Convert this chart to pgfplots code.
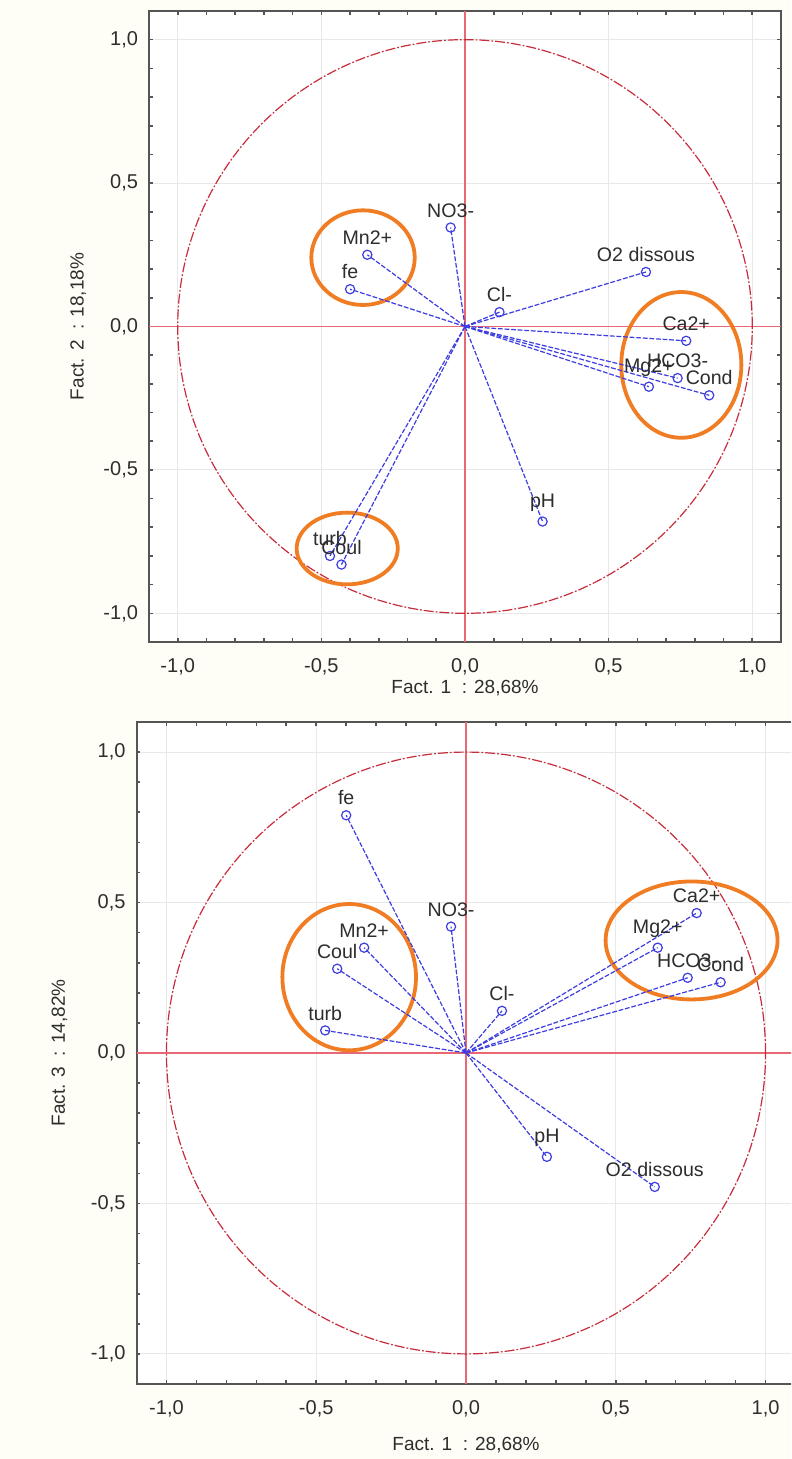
\documentclass[border=0pt]{standalone}
\usepackage{pgfplots}
\pgfplotsset{compat=1.18}
\usepackage{pgfplotstable}
\usepackage{fontspec}
\setmainfont{Liberation Sans}
\definecolor{bgc}{RGB}{254,254,246}
\definecolor{vecblue}{RGB}{60,60,225}
\definecolor{refred}{RGB}{232,105,115}
\definecolor{circred}{RGB}{200,45,60}
\definecolor{ringor}{RGB}{240,125,35}
\definecolor{txt}{RGB}{45,45,45}
\definecolor{axgray}{RGB}{85,85,85}

\pgfplotstableread[col sep=comma]{
lab,f1,f2,f3
NO3-,-0.05,0.345,0.42
Mn2+,-0.34,0.25,0.35
fe,-0.40,0.13,0.79
Cl-,0.12,0.05,0.14
O2 dissous,0.63,0.19,-0.445
Ca2+,0.77,-0.05,0.465
HCO3-,0.74,-0.18,0.25
Mg2+,0.64,-0.21,0.35
Cond,0.85,-0.24,0.235
pH,0.27,-0.68,-0.345
turb,-0.47,-0.80,0.075
Coul,-0.43,-0.83,0.28
}\loadings

\tikzset{
  refline/.style={refred, line width=0.55pt},
  refcirc/.style={circred, line width=0.6pt, dash pattern=on 5pt off 1pt on 0.9pt off 1pt},
  ring/.style={ringor, line width=1.9pt},
}

\pgfplotsset{
  pcastyle/.style={
    scale only axis,
    anchor=south west,
    xmin=-1.1,xmax=1.1,ymin=-1.1,ymax=1.1,
    xtick={-1,-0.5,0,0.5,1},
    ytick={-1,-0.5,0,0.5,1},
    xticklabels={{-1,0},{-0,5},{0,0},{0,5},{1,0}},
    yticklabels={{-1,0},{-0,5},{0,0},{0,5},{1,0}},
    minor tick num=4,
    tick align=inside,
    major tick length=1.8pt,
    minor tick length=1.8pt,
    tick style={axgray, line width=0.8pt},
    axis line style={axgray, line width=1pt},
    grid=major,
    major grid style={black!9, line width=0.45pt},
    ticklabel style={font=\fontsize{10}{12}\selectfont, text=txt},
    xticklabel style={yshift=-4.5pt},
    yticklabel style={xshift=-2pt},
    label style={font=\fontsize{9.5}{11}\selectfont, text=txt},
    axis background/.style={fill=white},
  },
  vecstyle/.style={vecblue, line width=0.6pt, dash pattern=on 2.4pt off 0.9pt},
  ptstyle/.style={only marks, mark=o, mark size=2.3pt, vecblue,
    mark options={line width=0.6pt, solid},
    nodes near coords, point meta=explicit symbolic,
    every node near coord/.append style={font=\fontsize{9.8}{11}\selectfont, text=txt, anchor=south, inner sep=0.5pt, yshift=4.3pt}},
}

\begin{document}
\begin{tikzpicture}
\useasboundingbox (0,0) rectangle (395.5pt,729.5pt);
\fill[bgc] (0,0) rectangle (395.5pt,729.5pt);
\clip (0,0) rectangle (395.5pt,729.5pt);

% ---------- top panel: Fact 1 x Fact 2 ----------
\begin{axis}[pcastyle,
  at={(74.5pt,408.5pt)}, width=316pt, height=315.5pt,
  xlabel={Fact. 1 \ : 28,68\%},
  ylabel={Fact. 2 \ : 18,18\%},
  xlabel style={at={(axis description cs:0.5,-0.073)}, anchor=center},
  ylabel style={at={(axis description cs:-0.112,0.5)}, anchor=center},
]
\draw[refline] (axis cs:-1.1,0) -- (axis cs:1.1,0);
\draw[refline] (axis cs:0,-1.1) -- (axis cs:0,1.1);
\draw[refcirc] (axis cs:0,0) circle[radius=1];
\draw[ring] (axis cs:-0.355,0.24) ellipse[x radius=0.18, y radius=0.165];
\draw[ring] (axis cs:0.753,-0.134) ellipse[x radius=0.209, y radius=0.254];
\draw[ring] (axis cs:-0.41,-0.774) ellipse[x radius=0.176, y radius=0.125];
\addplot[vecstyle, quiver={u=\thisrow{f1}, v=\thisrow{f2}}] table[x expr=0, y expr=0] {\loadings};
\addplot[ptstyle] table[x=f1, y=f2, meta=lab] {\loadings};
\end{axis}

% ---------- bottom panel: Fact 1 x Fact 3 ----------
\begin{axis}[pcastyle,
  at={(68.25pt,37.5pt)}, width=329.5pt, height=331pt,
  xlabel={Fact. 1 \ : 28,68\%},
  ylabel={Fact. 3 \ : 14,82\%},
  xlabel style={at={(axis description cs:0.5,-0.092)}, anchor=center},
  ylabel style={at={(axis description cs:-0.117,0.5)}, anchor=center},
]
\draw[refline] (axis cs:-1.1,0) -- (axis cs:1.1,0);
\draw[refline] (axis cs:0,-1.1) -- (axis cs:0,1.1);
\draw[refcirc] (axis cs:0,0) circle[radius=1];
\draw[ring] (axis cs:-0.39,0.252) ellipse[x radius=0.223, y radius=0.243];
\draw[ring] (axis cs:0.753,0.374) ellipse[x radius=0.287, y radius=0.196];
\addplot[vecstyle, quiver={u=\thisrow{f1}, v=\thisrow{f3}}] table[x expr=0, y expr=0] {\loadings};
\addplot[ptstyle] table[x=f1, y=f3, meta=lab] {\loadings};
\end{axis}
\end{tikzpicture}
\end{document}
